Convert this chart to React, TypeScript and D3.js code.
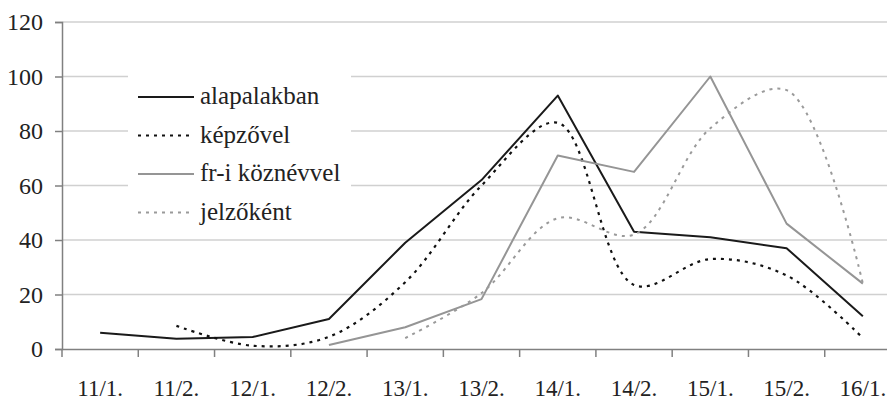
import React, { useEffect, useRef } from "react";
import * as d3 from "d3";

const categories = ["11/1.", "11/2.", "12/1.", "12/2.", "13/1.", "13/2.", "14/1.", "14/2.", "15/1.", "15/2.", "16/1."];
const alapalakban = [6, 3.8, 4.4, 11, 39, 62, 93, 43, 41, 37, 12];
const kepzovel = [null, 8.5, 1.2, 4.5, 24.5, 60, 83, 23.5, 33, 27, 4];
const frKoznevvel = [null, null, null, 1.5, 8, 18.3, 71, 65, 100, 46, 24];
const jelzokent = [null, null, null, null, 4, 20.5, 48, 42, 81, 95, 24];
const yTicks = [0, 20, 40, 60, 80, 100, 120];

const series = [
  { name: "alapalakban", values: alapalakban, color: "#1a1a1a", dash: null, width: 2, smooth: false },
  { name: "képzővel", values: kepzovel, color: "#111", dash: "3,5", width: 2.2, smooth: true },
  { name: "fr-i köznévvel", values: frKoznevvel, color: "#959595", dash: null, width: 2, smooth: false },
  { name: "jelzőként", values: jelzokent, color: "#9a9a9a", dash: "3,5", width: 2, smooth: true },
];

function App() {
  const svgRef = useRef<SVGSVGElement>(null);

  useEffect(() => {
    const width = 887;
    const margin = { top: 22, left: 62, bottom: 349, right: 901 };
    const svg = d3.select(svgRef.current);
    svg.selectAll("g").remove();

    const x = d3.scaleBand().domain(categories).range([margin.left, margin.right]).padding(0);
    const y = d3.scaleLinear().domain([0, 120]).range([margin.bottom, margin.top]);
    const cx = (c: string) => (x(c) as number) + x.bandwidth() / 2;

    // gridlines
    svg.append("g")
      .selectAll("line")
      .data(yTicks.filter(t => t > 0))
      .join("line")
      .attr("x1", margin.left).attr("x2", width)
      .attr("y1", d => y(d)).attr("y2", d => y(d))
      .attr("stroke", "#d0d0d0").attr("stroke-width", 1.5);

    // y axis
    const yAxis = svg.append("g")
      .attr("transform", `translate(${margin.left},0)`)
      .call(d3.axisLeft(y).tickValues(yTicks).tickSize(7).tickPadding(12));
    yAxis.attr("font-family", null).attr("font-size", 24);
    yAxis.select(".domain").attr("stroke", "#808080").attr("stroke-width", 1.5);
    yAxis.selectAll(".tick line").attr("stroke", "#808080").attr("stroke-width", 1.5);
    yAxis.selectAll("text").attr("fill", "#222");

    // x axis
    const xAxis = svg.append("g")
      .attr("transform", `translate(0,${margin.bottom})`)
      .call(d3.axisBottom(x).tickSize(0).tickPadding(31));
    xAxis.attr("font-family", null).attr("font-size", 23);
    xAxis.select(".domain").attr("stroke", "#808080").attr("stroke-width", 1.5);
    xAxis.selectAll("text").attr("fill", "#222");
    svg.append("g")
      .selectAll("line")
      .data(categories)
      .join("line")
      .attr("x1", d => x(d) as number).attr("x2", d => x(d) as number)
      .attr("y1", margin.bottom).attr("y2", margin.bottom + 8)
      .attr("stroke", "#808080").attr("stroke-width", 1.5);

    // legend box (covers gridlines)
    const legend = svg.append("g").attr("font-size", 25);
    legend.append("rect")
      .attr("x", 128).attr("y", 62).attr("width", 223).attr("height", 170)
      .attr("fill", "#fff");

    // lines
    series.forEach(s => {
      const pts = categories.map((c, i) => ({ c, v: s.values[i] }));
      const line = d3.line<{ c: string; v: number | null }>()
        .defined(d => d.v !== null)
        .x(d => cx(d.c))
        .y(d => y(d.v as number))
        .curve(s.smooth ? d3.curveCatmullRom.alpha(0.5) : d3.curveLinear);
      svg.append("g").append("path")
        .datum(pts)
        .attr("d", line)
        .attr("fill", "none")
        .attr("stroke", s.color)
        .attr("stroke-width", s.width)
        .attr("stroke-dasharray", s.dash)
        .attr("stroke-linejoin", "round");
    });

    // legend items
    series.forEach((s, i) => {
      const ly = 97 + i * 38.5;
      legend.append("line")
        .attr("x1", 138).attr("x2", 194).attr("y1", ly).attr("y2", ly)
        .attr("stroke", s.color).attr("stroke-width", s.width)
        .attr("stroke-dasharray", s.dash);
      legend.append("text")
        .attr("x", 200).attr("y", ly + 7)
        .attr("fill", "#222")
        .text(s.name);
    });
  }, []);

  return (
    <svg ref={svgRef} width={887} height={403}
      style={{ position: "absolute", left: 0, top: 0, background: "#fff" }}>
      <style>{`text { font-family: "Liberation Serif", "Times New Roman", serif !important; }`}</style>
    </svg>
  );
}

export default App;
